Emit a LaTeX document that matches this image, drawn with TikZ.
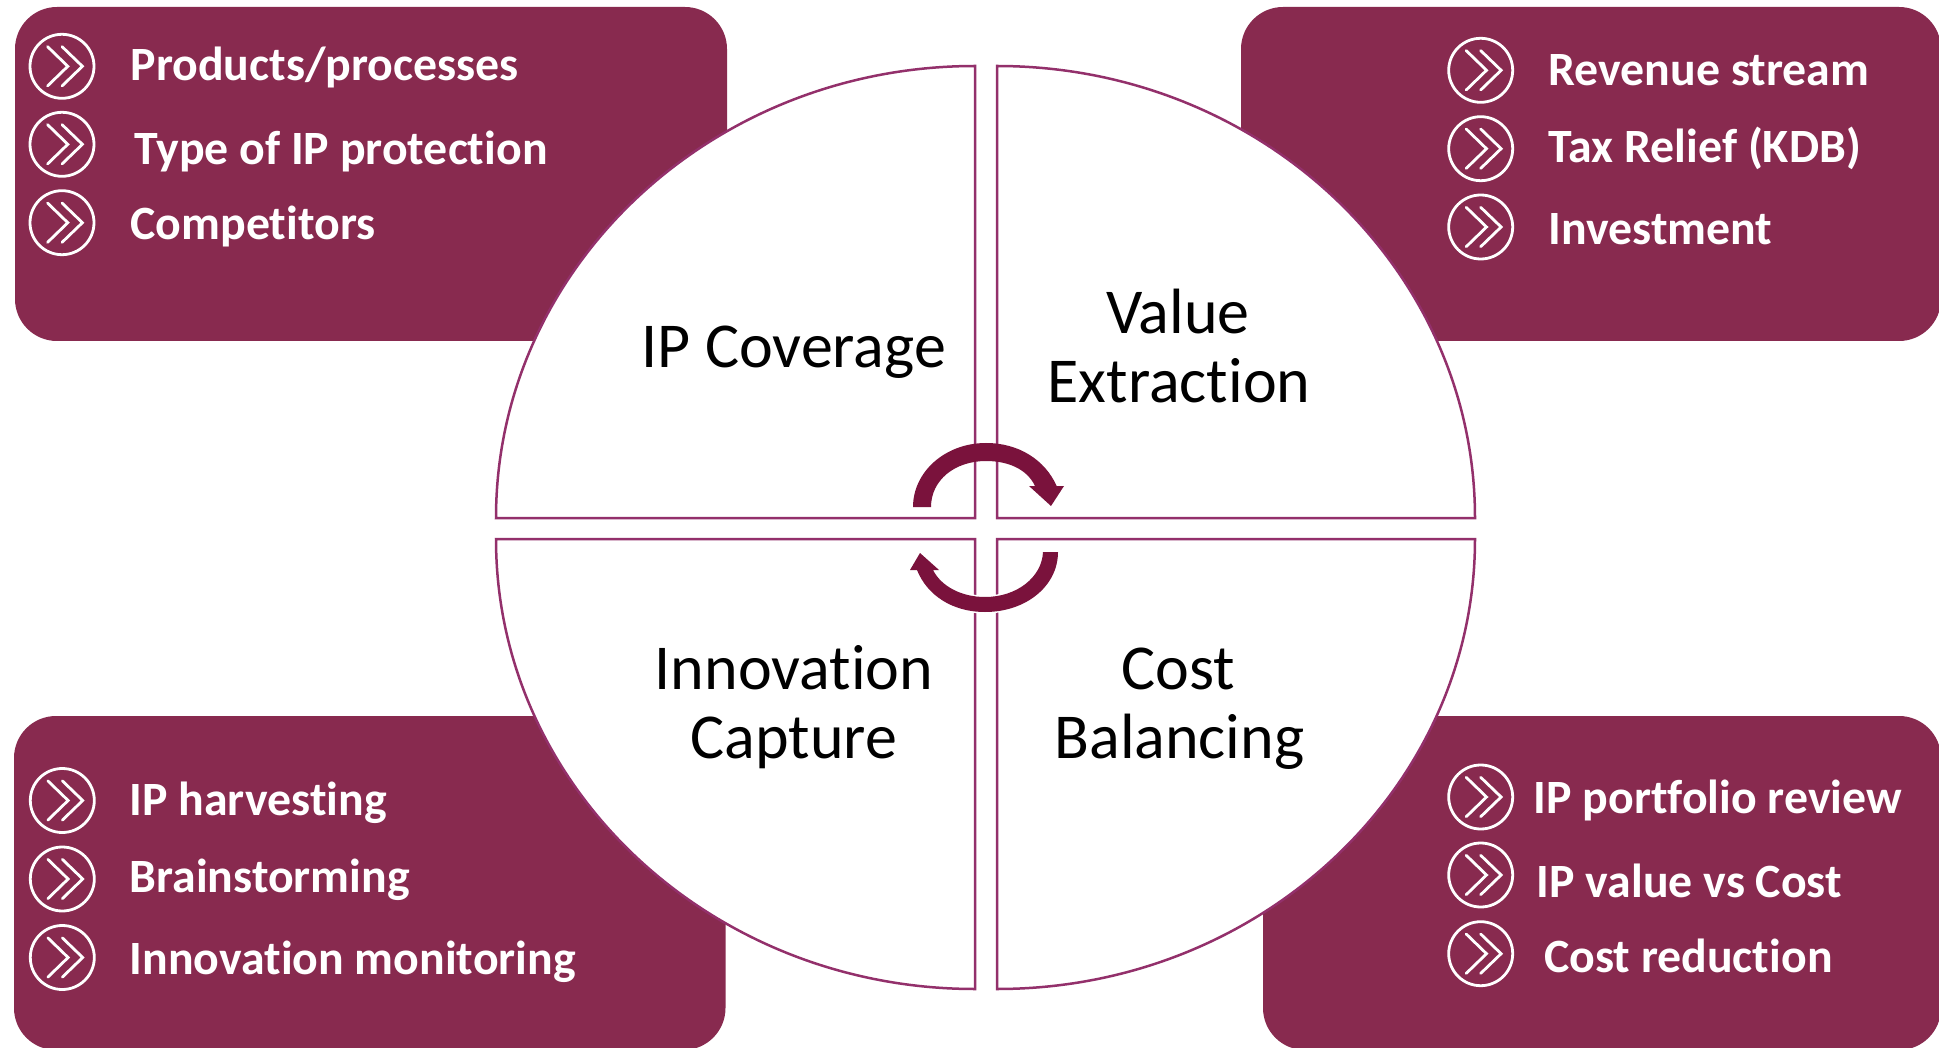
\documentclass[tikz,border=0pt]{standalone}
\usepackage{fontspec}
\setmainfont{Carlito}[Ligatures=NoCommon]
\definecolor{panelc}{HTML}{882A4F}
\definecolor{linec}{HTML}{93306B}
\definecolor{arrowc}{HTML}{7A123C}
\tikzset{
  x=1pt,y=-1pt,
  panel/.style={fill=panelc,draw=none},
  quad/.style={draw=linec,line width=2.5pt,fill=white,line join=miter},
  big/.style={font=\fontsize{64}{69}\selectfont,text=black,align=center,inner sep=0pt},
  item/.style={font=\fontsize{47.8}{54}\selectfont\bfseries,text=white,anchor=base west,inner sep=0pt},
  ring/.style={circle,draw=white,line width=2.8pt,minimum size=64pt,inner sep=0pt,outer sep=0pt},
  chev/.style={draw=white,line width=2.8pt,line cap=round,line join=miter},
  pics/chevicon/.style={code={
    \node[ring] (-ring) at (0,0) {};
    \draw[chev] (-14.5,-19.7) -- (5.8,0) -- (-14.5,19.7);
    \draw[chev] (0,-19.7) -- (20.4,0) -- (0,19.7);
  }}
}
\begin{document}
\begin{tikzpicture}
\useasboundingbox (0,0) rectangle (1939,1048);
% panels
\fill[panel,rounded corners=42pt] (15,7) rectangle (727,341);
\fill[panel,rounded corners=42pt] (1241,7) rectangle (1941,341);
\fill[panel,rounded corners=42pt] (14,716) rectangle (725.5,1050);
\fill[panel,rounded corners=42pt] (1263,716) rectangle (1941,1050);
% quadrants
\draw[quad] (975,518) -- (496,518) arc[start angle=180,end angle=90,x radius=479,y radius=-452] -- cycle;
\draw[quad] (997,518) -- (997,66) arc[start angle=90,end angle=0,x radius=478,y radius=-452] -- cycle;
\draw[quad] (975,539) -- (496,539) arc[start angle=180,end angle=270,x radius=479,y radius=-450] -- cycle;
\draw[quad] (997,539) -- (997,989) arc[start angle=270,end angle=360,x radius=478,y radius=-450] -- cycle;
% cycle arrows
\fill[arrowc] (913,507) .. controls (913,472) and (945,443) .. (986,443)
  .. controls (1019,443) and (1045,460) .. (1056.7,486) -- (1064,486) -- (1051,506) -- (1029,486) -- (1035,486)
  .. controls (1027,469) and (1008,461) .. (986,461)
  .. controls (955,461) and (931,480) .. (931,507) -- cycle;
\draw[white,line width=3pt,fill=arrowc] (1058,552) .. controls (1058,586) and (1026,612) .. (985,612)
  .. controls (952,612) and (927,595) .. (917,570) -- (910,570) -- (920,553) -- (939,570) -- (933,570)
  .. controls (941,586) and (961,597) .. (985,597)
  .. controls (1017,597) and (1042,577) .. (1043,552) -- cycle;
\fill[arrowc] (1058,552) .. controls (1058,586) and (1026,612) .. (985,612)
  .. controls (952,612) and (927,595) .. (917,570) -- (910,570) -- (920,553) -- (939,570) -- (933,570)
  .. controls (941,586) and (961,597) .. (985,597)
  .. controls (1017,597) and (1042,577) .. (1043,552) -- cycle;
% big labels
\node[big,anchor=base] (ipc) at (793.7,368) {IP Coverage};
\node[big,anchor=base] (ve1) at (1178,333.5) {Value};
\node[big,anchor=base] (ve2) at (1179,402.8) {Extraction};
\node[big,anchor=base] (ic1) at (794,689.8) {Innovation};
\node[big,anchor=base] (ic2) at (794,758.5) {Capture};
\node[big,anchor=base] (cb1) at (1178.5,689.8) {Cost};
\node[big,anchor=base] (cb2) at (1179.5,758.5) {Balancing};
% items
\pic (a1) at (62,66.3) {chevicon};
\pic (a2) at (62,144.3) {chevicon};
\pic (a3) at (62,222.7) {chevicon};
\node[item] (ta1) at (130.5,80.5) {Products/processes};
\node[item] (ta2) at (134,164.5) {Type of IP protection};
\node[item] (ta3) at (130.5,239.5) {Competitors};
\pic (b1) at (1480.7,70.3) {chevicon};
\pic (b2) at (1480.7,148.7) {chevicon};
\pic (b3) at (1480.7,227) {chevicon};
\node[item] (tb1) at (1548.5,86) {Revenue stream};
\node[item] (tb2) at (1548.5,163) {Tax Relief (KDB)};
\node[item] (tb3) at (1548.5,244.5) {Investment};
\pic (c1) at (62.3,800.5) {chevicon};
\pic (c2) at (62.3,879) {chevicon};
\pic (c3) at (62.3,957.5) {chevicon};
\node[item] (tc1) at (129.5,815.7) {IP harvesting};
\node[item] (tc2) at (129.5,892) {Brainstorming};
\node[item] (tc3) at (129.5,974.7) {Innovation monitoring};
\pic (d1) at (1480.7,797) {chevicon};
\pic (d2) at (1480.7,875) {chevicon};
\pic (d3) at (1480.7,953.7) {chevicon};
\node[item] (td1) at (1533.5,813) {IP portfolio review};
\node[item] (td2) at (1536.5,897.5) {IP value vs Cost};
\node[item] (td3) at (1544,972.5) {Cost reduction};
\end{tikzpicture}
\end{document}
